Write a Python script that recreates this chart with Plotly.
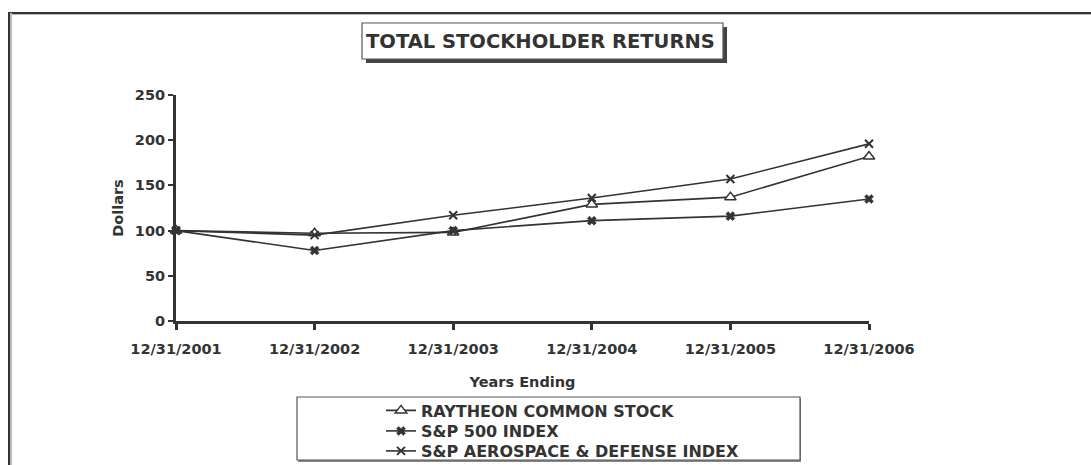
import plotly.graph_objects as go

years = [2001, 2002, 2003, 2004, 2005, 2006]
tick_labels = ["12/31/2001", "12/31/2002", "12/31/2003", "12/31/2004", "12/31/2005", "12/31/2006"]
raytheon = [100, 97, 98, 129, 137, 182]
sp500 = [100, 78, 100, 111, 116, 135]
aero = [100, 95, 117, 136, 157, 196]

W, H = 1091, 465
L, R, T, B = 176, 869, 95, 321
C = "#333333"
FONT = "DejaVu Sans, Arial, sans-serif"


def px(x):
    return (x - L) / (R - L)


def py(y):
    return (B - y) / (B - T)


fig = go.Figure()
fig.add_trace(go.Scatter(
    x=years, y=raytheon, name="RAYTHEON COMMON STOCK", mode="lines+markers",
    line=dict(color=C, width=1.6),
    marker=dict(symbol="triangle-up", size=10, color="white", line=dict(color=C, width=1.5)),
    cliponaxis=False, legend="legend"))
fig.add_trace(go.Scatter(
    x=years, y=sp500, name="S&P 500 INDEX", mode="lines+markers",
    line=dict(color=C, width=1.6),
    marker=dict(symbol="x", size=8, color=C, line=dict(color=C, width=0.5)),
    cliponaxis=False, legend="legend2"))
fig.add_trace(go.Scatter(
    x=years, y=aero, name="S&P AEROSPACE & DEFENSE INDEX", mode="lines+markers",
    line=dict(color=C, width=1.6),
    marker=dict(symbol="x-thin", size=8, color=C, line=dict(color=C, width=2)),
    cliponaxis=False, legend="legend3"))

shapes = []
# outer frame (top and left edges)
shapes.append(dict(type="line", xref="paper", yref="paper", x0=px(9), x1=px(1100), y0=py(14), y1=py(14),
                   line=dict(color="#bbbbbb", width=2)))
shapes.append(dict(type="line", xref="paper", yref="paper", x0=px(9), x1=px(1100), y0=py(13), y1=py(13),
                   line=dict(color=C, width=2)))
shapes.append(dict(type="line", xref="paper", yref="paper", x0=px(11), x1=px(11), y0=py(13), y1=py(470),
                   line=dict(color="#bbbbbb", width=2)))
shapes.append(dict(type="line", xref="paper", yref="paper", x0=px(9), x1=px(9), y0=py(12), y1=py(470),
                   line=dict(color=C, width=2)))
# title box shadow + box
shapes.append(dict(type="rect", xref="paper", yref="paper", x0=px(366), x1=px(727), y0=py(63), y1=py(27),
                   line=dict(width=0), fillcolor="#444444", layer="below"))
shapes.append(dict(type="rect", xref="paper", yref="paper", x0=px(362), x1=px(723), y0=py(59), y1=py(23),
                   line=dict(color="#555555", width=1.2), fillcolor="white", layer="below"))
# legend box shadow + box
shapes.append(dict(type="rect", xref="paper", yref="paper", x0=px(298), x1=px(801), y0=py(462), y1=py(398),
                   line=dict(width=0), fillcolor="#888888", layer="below"))
shapes.append(dict(type="rect", xref="paper", yref="paper", x0=px(297), x1=px(800), y0=py(460), y1=py(397),
                   line=dict(color="#555555", width=1.2), fillcolor="white", layer="below"))

annotations = [
    dict(text="<b>TOTAL STOCKHOLDER RETURNS</b>", xref="paper", yref="paper", x=px(540.5), y=py(42),
         xanchor="center", yanchor="middle", showarrow=False, font=dict(family=FONT, size=19.5, color=C)),
]


def leg(ycen):
    return dict(x=px(381), y=py(ycen), xanchor="left", yanchor="middle",
                bgcolor="rgba(0,0,0,0)", borderwidth=0,
                font=dict(family=FONT, size=16, color=C, weight="bold"),
                itemwidth=30)


fig.update_layout(
    width=W, height=H,
    margin=dict(l=L, r=W - R, t=T, b=H - B, pad=0, autoexpand=False),
    paper_bgcolor="white", plot_bgcolor="white",
    font=dict(family=FONT, color=C),
    shapes=shapes, annotations=annotations,
    showlegend=True,
    legend=leg(410.5), legend2=leg(431), legend3=leg(451),
)
fig.update_xaxes(
    range=[2001, 2006], tickvals=years, ticktext=tick_labels,
    showgrid=False, zeroline=False, showline=True, linecolor=C, linewidth=3,
    ticks="outside", ticklen=6, tickwidth=3, tickcolor=C, ticklabelstandoff=7,
    tickfont=dict(family=FONT, size=14.5, color=C, weight="bold"),
    title=dict(text="<b>Years Ending</b>", font=dict(family=FONT, size=14.5, color=C), standoff=21),
    automargin=False,
)
fig.update_yaxes(
    range=[0, 250], tickvals=[0, 50, 100, 150, 200, 250],
    showgrid=False, zeroline=False, showline=True, linecolor=C, linewidth=3,
    ticks="outside", ticklen=5, tickwidth=2, tickcolor=C,
    tickfont=dict(family=FONT, size=14.5, color=C, weight="bold"),
    title=dict(text="<b>Dollars</b>", font=dict(family=FONT, size=14.5, color=C), standoff=8),
    automargin=False,
)

fig.write_html("out.html", config={"displayModeBar": False},
               post_script="document.body.style.margin='0';")
